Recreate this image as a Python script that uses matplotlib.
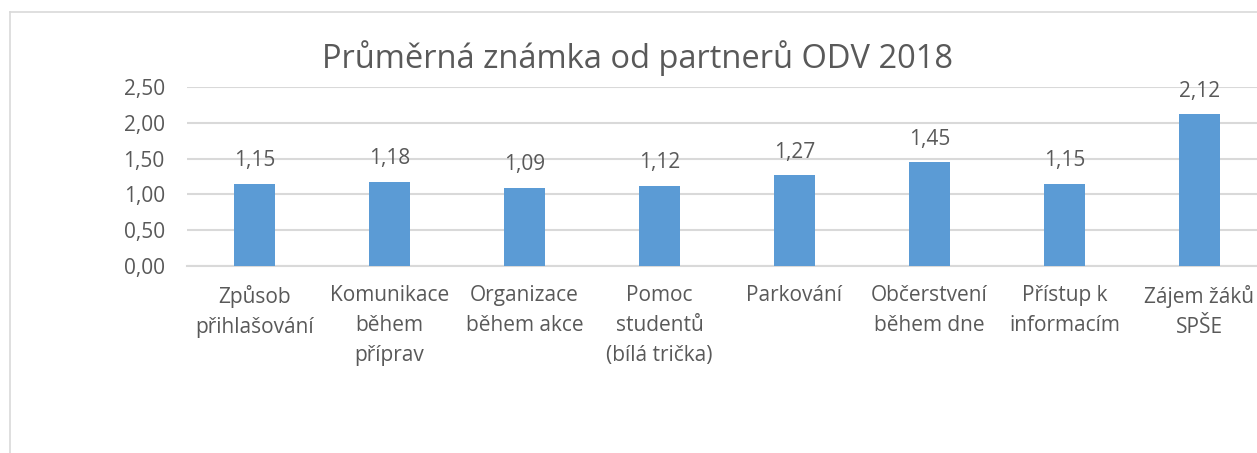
import matplotlib
matplotlib.use("Agg")
import matplotlib.pyplot as plt
from matplotlib.lines import Line2D

categories = ["Způsob\npřihlašování", "Komunikace\nběhem\npříprav", "Organizace\nběhem akce",
              "Pomoc\nstudentů\n(bílá trička)", "Parkování", "Občerstvení\nběhem dne",
              "Přístup k\ninformacím", "Zájem žáků\nSPŠE"]
values = [1.15, 1.18, 1.09, 1.12, 1.27, 1.45, 1.15, 2.12]
yticks = [0, 0.5, 1.0, 1.5, 2.0, 2.5]
title = "Průměrná známka od partnerů ODV 2018"

W, H = 1257, 453
plt.rcParams['font.family'] = ['Open Sans', 'DejaVu Sans']
fig = plt.figure(figsize=(W / 100, H / 100), dpi=100)
txt = "#595959"
grid = "#d9d9d9"
bar_c = "#5b9bd5"
fs = 15

ax = fig.add_axes([187 / W, (H - 266) / H, 1080 / W, 179 / H])
x = range(len(categories))
ax.bar(x, values, width=0.31, color=bar_c, zorder=3)
ax.set_xlim(-0.5, len(categories) - 0.5)
ax.set_ylim(0, 2.5)
ax.set_yticks(yticks)
ax.set_yticklabels([f"{v:.2f}".replace(".", ",") for v in yticks], color=txt, fontsize=fs)
ax.set_xticks(list(x))
ax.set_xticklabels(categories, color=txt, fontsize=fs, linespacing=1.55, va="top")
ax.tick_params(axis="both", length=0)
ax.tick_params(axis="y", pad=16)
ax.tick_params(axis="x", pad=14)
for s in ax.spines.values():
    s.set_visible(False)
ax.yaxis.grid(True, color=grid, linewidth=1.5, zorder=0)
ax.set_axisbelow(True)
ax.axhline(0, color=grid, linewidth=1.5, zorder=2, clip_on=False)
for xi, v in zip(x, values):
    ax.annotate(f"{v:.2f}".replace(".", ","), (xi, v), xytext=(0, 9), textcoords="offset points",
                ha="center", va="bottom", color=txt, fontsize=fs)

fig.text(638 / W, 1 - 58 / H, title, ha="center", va="center", color=txt, fontsize=23.5)

fig.add_artist(Line2D([9.5 / W, 9.5 / W], [0, 1 - 12 / H], color=grid, linewidth=1.2))
fig.add_artist(Line2D([9.5 / W, 1], [1 - 12 / H, 1 - 12 / H], color=grid, linewidth=1.2))

fig.savefig("out.png", dpi=100, facecolor="white")
